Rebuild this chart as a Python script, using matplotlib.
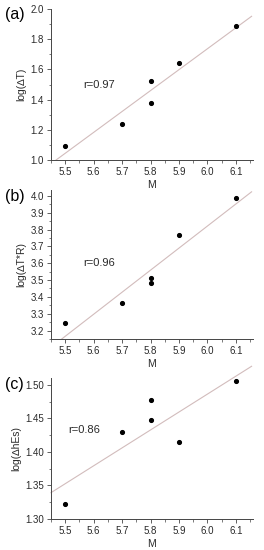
import numpy as np
import matplotlib
matplotlib.use("Agg")
from matplotlib import pyplot as plt
from matplotlib.ticker import MultipleLocator

plt.rcParams['font.family'] = ['Liberation Sans', 'DejaVu Sans']

M = [5.5, 5.7, 5.8, 5.8, 5.9, 6.1]
logT = [1.095, 1.24, 1.525, 1.375, 1.64, 1.885]
logTR = [3.245, 3.365, 3.515, 3.48, 3.765, 3.985]
logHEs = [1.322, 1.43, 1.477, 1.447, 1.415, 1.505]

panels = ["(a)", "(b)", "(c)"]
ylabels = ["log(\u2206T)", "log(\u2206T*R)", "log(\u2206hEs)"]
rtexts = ["r=0.97", "r=0.96", "r=0.86"]

fig = plt.figure(figsize=(2.64, 5.5), dpi=100)
W, H = 264, 550

def px_axes(left, top, right, bottom):
    return fig.add_axes([left / W, 1 - bottom / H, (right - left) / W, (bottom - top) / H])

boxes = [(51, 9, 253, 160), (51, 190, 253, 339), (51, 378, 253, 519)]
series = [logT, logTR, logHEs]
ylims = [(1.0, 2.0), (3.15, 4.035), (1.30, 1.51)]
ymaj = [0.2, 0.1, 0.05]
yfmt = ['%.1f', '%.1f', '%.2f']
rpos = [(5.565, 1.50), (5.565, 3.60), (5.51, 1.433)]
xlim = (5.45, 6.16)
grey = "#454545"
txt = "#2a2a2a"

for i in range(3):
    l, t, r, b = boxes[i]
    ax = px_axes(l, t, r, b)
    y = series[i]
    ax.plot(M, y, 'o', color='black', markersize=2.7, zorder=3)

    # regression line
    k, c = np.polyfit(M, y, 1)
    x0 = max(xlim[0], (ylims[i][0] - c) / k)
    xs = np.array([x0, xlim[1] - 0.005])
    ax.plot(xs, k * xs + c, color='#d2bcbc', lw=0.8, clip_on=False, zorder=2)

    ax.set_xlim(*xlim)
    ax.set_ylim(*ylims[i])
    ax.xaxis.set_major_locator(MultipleLocator(0.1))
    ax.xaxis.set_minor_locator(MultipleLocator(0.05))
    ax.yaxis.set_major_locator(MultipleLocator(ymaj[i]))
    ax.yaxis.set_minor_locator(MultipleLocator(ymaj[i] / 2))
    ax.yaxis.set_major_formatter(plt.FormatStrFormatter(yfmt[i]))
    ax.xaxis.set_major_formatter(plt.FormatStrFormatter('%.1f'))

    for s in ['top', 'right']:
        ax.spines[s].set_visible(False)
    for s in ['left', 'bottom']:
        ax.spines[s].set_color(grey)
        ax.spines[s].set_linewidth(0.7)
    ax.tick_params(which='major', direction='out', length=3, width=0.6,
                   colors=grey, labelsize=7, labelcolor=txt, pad=2)
    ax.tick_params(which='minor', direction='out', length=1.8, width=0.5, colors=grey)

    ax.set_xlabel("M", fontsize=7.5, color=txt, labelpad=2)
    ax.set_ylabel(ylabels[i], fontsize=7.5, color=txt, labelpad=3)
    ax.text(rpos[i][0], rpos[i][1], rtexts[i], fontsize=8, color=txt, va='center')

    fig.text(5 / W, 1 - (t + 6) / H, panels[i], fontsize=11.5, va='center', ha='left')

fig.savefig("out.png", dpi=100)
